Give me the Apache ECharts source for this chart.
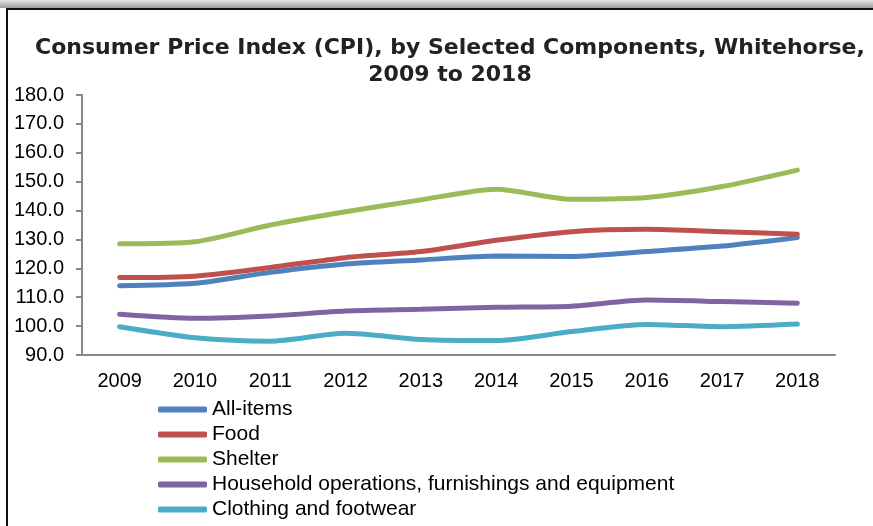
<!DOCTYPE html>
<html>
<head>
<meta charset="utf-8">
<script src="https://cdn.jsdelivr.net/npm/echarts@6/dist/echarts.min.js"></script>
<style>
  html, body { margin: 0; padding: 0; background: #fff; }
  #chart { width: 873px; height: 526px; }
</style>
</head>
<body>
<div id="chart"></div>
<script>
// data
const years = ["2009", "2010", "2011", "2012", "2013", "2014", "2015", "2016", "2017", "2018"];
const allItems = [114.0, 114.8, 118.6, 121.5, 122.9, 124.3, 124.1, 125.8, 127.7, 130.7];
const food = [116.8, 117.3, 120.3, 123.7, 125.8, 129.7, 132.7, 133.5, 132.7, 131.8];
const shelter = [128.5, 129.2, 135.0, 139.6, 143.7, 147.4, 143.9, 144.5, 148.3, 154.0];
const household = [104.1, 102.7, 103.5, 105.2, 105.8, 106.5, 106.9, 109.0, 108.5, 107.9];
const clothing = [99.8, 96.0, 94.8, 97.5, 95.4, 95.0, 98.1, 100.6, 99.8, 100.7];

const names = [
  "All-items",
  "Food",
  "Shelter",
  "Household operations, furnishings and equipment",
  "Clothing and footwear"
];
const colors = ["#4F81BD", "#C0504D", "#9BBB59", "#8064A2", "#4BACC6"];
const values = [allItems, food, shelter, household, clothing];

const chart = echarts.init(document.getElementById("chart"));

const labelFont = { fontFamily: "Liberation Sans", fontSize: 20, color: "#000" };

chart.setOption({
  animation: false,
  color: colors,
  title: {
    text: "Consumer Price Index (CPI), by Selected Components, Whitehorse,\n2009 to 2018",
    left: 445,
    textAlign: "center",
    top: 30,
    textStyle: {
      fontFamily: "DejaVu Sans",
      fontWeight: "bold",
      fontSize: 22,
      lineHeight: 27,
      color: "#222"
    }
  },
  legend: {
    orient: "vertical",
    left: 153,
    top: 394,
    height: 132,
    itemWidth: 49,
    itemHeight: 6,
    itemGap: 4,
    icon: "roundRect",
    textStyle: { fontFamily: "Liberation Sans", fontSize: 21, color: "#000" },
    data: names
  },
  grid: { left: 82, right: 38, top: 95, bottom: 171 },
  xAxis: {
    type: "category",
    data: years,
    boundaryGap: true,
    axisLine: { lineStyle: { color: "#888", width: 2 } },
    axisTick: { alignWithLabel: false, length: 6, lineStyle: { color: "#888", width: 2 } },
    axisLabel: Object.assign({ margin: 16 }, labelFont)
  },
  yAxis: {
    type: "value",
    min: 90,
    max: 180,
    interval: 10,
    splitLine: { show: false },
    axisLine: { show: true, lineStyle: { color: "#888", width: 2 } },
    axisTick: { show: true, length: 6, lineStyle: { color: "#888", width: 2 } },
    axisLabel: Object.assign({ margin: 18, formatter: v => v.toFixed(1) }, labelFont)
  },
  series: values.map((d, i) => ({
    name: names[i],
    type: "line",
    data: d,
    smooth: 0.25,
    symbol: "none",
    lineStyle: { width: 5, color: colors[i], cap: "round" }
  })),
  graphic: [
    {
      type: "rect",
      shape: { x: 0, y: 0, width: 873, height: 8 },
      style: {
        fill: new echarts.graphic.LinearGradient(0, 0, 0, 1, [
          { offset: 0, color: "#e6e6e6" },
          { offset: 1, color: "#9a9a9a" }
        ])
      },
      silent: true
    },
    {
      type: "polyline",
      shape: { points: [[7, 526], [7, 9], [873, 9]] },
      style: { stroke: "#111", lineWidth: 2, fill: null },
      silent: true
    }
  ]
});

window.addEventListener("resize", () => chart.resize());
</script>
</body>
</html>
